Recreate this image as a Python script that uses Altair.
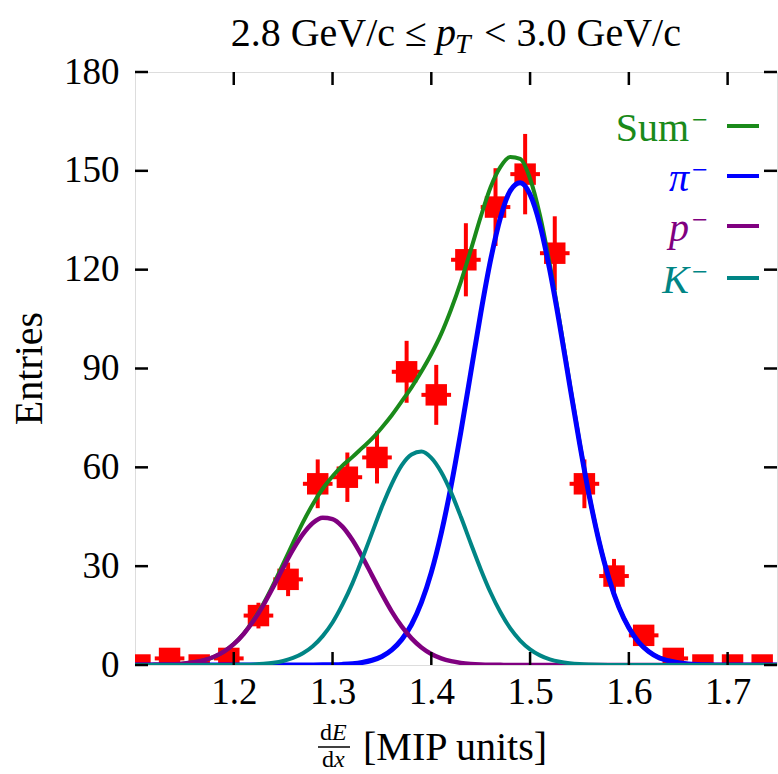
import altair as alt
import pandas as pd

# ---------------- data ----------------
X_CURVE = [round(1.10 + 0.01 * i, 2) for i in range(66)]   # sampling positions 1.10 .. 1.75

SUM = [0.01, 0.02, 0.05, 0.11, 0.22, 0.44, 0.82, 1.46, 2.49, 4.08,
       6.37, 9.51, 13.6, 18.6, 24.4, 30.7, 37.1, 43.3, 48.8, 53.5,
       57.3, 60.5, 63.1, 65.9, 68.7, 72.1, 75.8, 80.0, 84.3, 89.1,
       94.4, 100.5, 107.9, 116.4, 126.0, 136.0, 145.0, 151.2, 154.2, 153.6,
       147.6, 136.5, 121.5, 104.2, 85.7, 67.8, 51.3, 37.4, 26.1, 17.5,
       11.3, 6.9, 4.1, 2.3, 1.3, 0.66, 0.33, 0.16, 0.07, 0.03,
       0, 0, 0, 0, 0, 0]

PI = [0, 0, 0, 0, 0, 0, 0, 0, 0, 0,
      0, 0, 0, 0, 0, 0, 0, 0, 0.02, 0.04,
      0.09, 0.19, 0.38, 0.76, 1.44, 2.6, 4.6, 7.7, 12.3, 19.0,
      28.1, 39.9, 54.3, 70.9, 88.8, 106.7, 122.9, 135.8, 144.0, 146.4,
      142.8, 133.6, 119.8, 103.2, 85.2, 67.5, 51.2, 37.3, 26.1, 17.5,
      11.3, 6.9, 4.1, 2.3, 1.3, 0.66, 0.33, 0.16, 0.07, 0.03,
      0, 0, 0, 0, 0, 0]

P = [0.01, 0.02, 0.05, 0.11, 0.22, 0.44, 0.82, 1.46, 2.49, 4.06,
     6.33, 9.42, 13.4, 18.2, 23.7, 29.5, 35.0, 39.7, 43.1, 44.7,
     44.3, 42.0, 38.0, 32.9, 27.2, 21.5, 16.2, 11.7, 8.08, 5.33,
     3.36, 2.02, 1.16, 0.64, 0.34, 0.17, 0.08, 0.04, 0, 0,
     0, 0, 0, 0, 0, 0, 0, 0, 0, 0,
     0, 0, 0, 0, 0, 0, 0, 0, 0, 0,
     0, 0, 0, 0, 0, 0]

K = [0, 0, 0, 0, 0, 0, 0, 0, 0, 0.02,
     0.04, 0.09, 0.18, 0.36, 0.68, 1.23, 2.14, 3.57, 5.71, 8.77,
     12.9, 18.3, 24.7, 32.2, 40.1, 48.0, 55.0, 60.6, 63.9, 64.8,
     62.9, 58.6, 52.4, 44.9, 36.9, 29.1, 22.0, 16.0, 11.1, 7.43,
     4.76, 2.92, 1.72, 0.97, 0.53, 0.27, 0.14, 0.07, 0.03, 0,
     0, 0, 0, 0, 0, 0, 0, 0, 0, 0,
     0, 0, 0, 0, 0, 0]

BIN_CENTER = [1.105, 1.135, 1.165, 1.195, 1.225, 1.255, 1.285, 1.315, 1.345, 1.375, 1.405,
              1.435, 1.465, 1.495, 1.525, 1.555, 1.585, 1.615, 1.645, 1.675, 1.705, 1.735]
COUNTS = [0, 2, 0, 2, 15, 26, 55, 57, 63, 89, 82,
          123, 139, 149, 125, 55, 27, 9, 2, 0, 0, 0]
ERRORS = [0, 1.4, 0, 1.4, 3.9, 5.1, 7.4, 7.5, 7.9, 9.4, 9.1,
          11.1, 11.8, 12.2, 11.2, 7.4, 5.2, 3.0, 1.4, 0, 0, 0]
BIN_HALF = 0.015

X_TICKS = [1.2, 1.3, 1.4, 1.5, 1.6, 1.7]
Y_TICKS = [0, 30, 60, 90, 120, 150, 180]

LEGEND_LABELS = ["Sum", "π", "p", "K"]
LEGEND_STYLES = ["normal", "italic", "italic", "italic"]
LEGEND_COLORS = ["#1a8a1a", "#0000ff", "#800080", "#008585"]
SUP = "−"

TITLE_LEFT = "2.8 GeV/c ≤"
TITLE_VAR = "p"
TITLE_SUB = "T"
TITLE_RIGHT = "< 3.0 GeV/c"
Y_TITLE = "Entries"
X_TITLE = "[MIP units]"

# ---------------- layout ----------------
W, H = 642, 593
FONT = "Liberation Serif"
RED = "#ff0000"

xs = alt.Scale(domain=[1.1, 1.75], nice=False, zero=False)
ys = alt.Scale(domain=[0, 180], nice=False, zero=False)

names = ["sum", "pi", "p", "k"]
curves = pd.DataFrame({
    "x": X_CURVE * 4,
    "y": SUM + PI + P + K,
    "s": sum([[n] * len(X_CURVE) for n in names], []),
})

pts = pd.DataFrame({"x": BIN_CENTER, "n": COUNTS, "e": ERRORS})
pts["lo"] = pts["n"] - pts["e"]
pts["hi"] = pts["n"] + pts["e"]
pts["xl"] = pts["x"] - BIN_HALF
pts["xr"] = pts["x"] + BIN_HALF

x_axis = alt.Axis(values=X_TICKS, format=".1f", labelFontSize=37, labelFont=FONT,
                  labelColor="black", domain=False, ticks=False, grid=False,
                  labelPadding=9, title=None, labelFlush=False, labelOverlap=False)
y_axis = alt.Axis(values=Y_TICKS, labelFontSize=37, labelFont=FONT, labelColor="black",
                  domain=False, ticks=False, grid=False, labelPadding=16, title=None,
                  labelFlush=False, labelOverlap=False)

base = alt.Chart(pts)
v_err = base.mark_rule(color=RED, strokeWidth=4, clip=True).encode(
    x=alt.X("x:Q", scale=xs, axis=x_axis),
    y=alt.Y("lo:Q", scale=ys, axis=y_axis),
    y2="hi:Q",
)
h_err = base.mark_rule(color=RED, strokeWidth=4, clip=True).encode(
    x=alt.X("xl:Q", scale=xs), x2="xr:Q", y=alt.Y("n:Q", scale=ys)
)
squares = base.mark_square(color=RED, size=460, opacity=1, clip=True).encode(
    x=alt.X("x:Q", scale=xs), y=alt.Y("n:Q", scale=ys)
)

widths = {"sum": 4, "pi": 5, "p": 4.5, "k": 4}
lines = []
for n, c in zip(names, LEGEND_COLORS):
    lines.append(
        alt.Chart(curves).transform_filter(alt.datum.s == n)
        .mark_line(color=c, strokeWidth=widths[n], interpolate="monotone", clip=True)
        .encode(x=alt.X("x:Q", scale=xs), y=alt.Y("y:Q", scale=ys))
    )

ytk = pd.DataFrame({"v": Y_TICKS})
xtk = pd.DataFrame({"v": X_TICKS})
TL = 13
ticks = [
    alt.Chart(ytk).mark_rule(color="black", strokeWidth=2.5).encode(
        y=alt.Y("v:Q", scale=ys), x=alt.value(0), x2=alt.value(TL)),
    alt.Chart(ytk).mark_rule(color="black", strokeWidth=2.5).encode(
        y=alt.Y("v:Q", scale=ys), x=alt.value(W - TL), x2=alt.value(W)),
    alt.Chart(xtk).mark_rule(color="black", strokeWidth=2.5).encode(
        x=alt.X("v:Q", scale=xs), y=alt.value(H), y2=alt.value(H - TL)),
    alt.Chart(xtk).mark_rule(color="black", strokeWidth=2.5).encode(
        x=alt.X("v:Q", scale=xs), y=alt.value(0), y2=alt.value(TL)),
]


def txt(s, x, y, size, align="left", style="normal", color="black", angle=0,
        baseline="alphabetic"):
    return alt.Chart(pd.DataFrame({"t": [s]})).mark_text(
        align=align, baseline=baseline, fontSize=size, font=FONT, fontStyle=style,
        color=color, angle=angle,
    ).encode(x=alt.value(x), y=alt.value(y), text="t:N")


def seg(x1, x2, y, color, width):
    return alt.Chart(pd.DataFrame({"a": [0]})).mark_rule(color=color, strokeWidth=width).encode(
        x=alt.value(x1), x2=alt.value(x2), y=alt.value(y))


OX, OY = 135, 72  # image offset of the plot area
texts = []
# title
texts.append(txt(TITLE_LEFT, 427 - OX, 46 - OY, 40, align="right"))
texts.append(txt(TITLE_VAR, 436 - OX, 46 - OY, 40, style="italic"))
texts.append(txt(TITLE_SUB, 455 - OX, 53 - OY, 28, style="italic"))
texts.append(txt(TITLE_RIGHT, 484 - OX, 46 - OY, 40))
# y title
texts.append(txt(Y_TITLE, 30 - OX, H / 2, 40, align="center", angle=270, baseline="middle"))
# x title with fraction dE/dx
texts.append(txt("d", 320 - OX, 740 - OY, 24))
texts.append(txt("E", 332 - OX, 740 - OY, 24, style="italic"))
texts.append(seg(318 - OX, 350 - OX, 747 - OY, "black", 1.5))
texts.append(txt("d", 322 - OX, 767 - OY, 24))
texts.append(txt("x", 334 - OX, 767 - OY, 24, style="italic"))
texts.append(txt(X_TITLE, 363 - OX, 760 - OY, 40))

# legend
LEG_Y = [126, 176, 226, 278]
for lab, sty, col, ly in zip(LEGEND_LABELS, LEGEND_STYLES, LEGEND_COLORS, LEG_Y):
    texts.append(txt(lab, 689 - OX, ly + 15 - OY, 40, align="right", style=sty, color=col))
    texts.append(txt(SUP, 692 - OX, ly + 3 - OY, 28, color=col))
    texts.append(seg(727 - OX, 759 - OX, ly - OY, col, 4))

chart = alt.layer(v_err, h_err, squares, *lines, *ticks, *texts).properties(
    width=W, height=H,
    padding={"left": OX, "top": OY, "right": 1, "bottom": 774 - OY - H},
    autosize=alt.AutoSizeParams(type="none"),
).configure_view(stroke="black", strokeWidth=3).configure(font=FONT)

chart.save("out.html", embed_options={"renderer": "svg", "actions": False})
